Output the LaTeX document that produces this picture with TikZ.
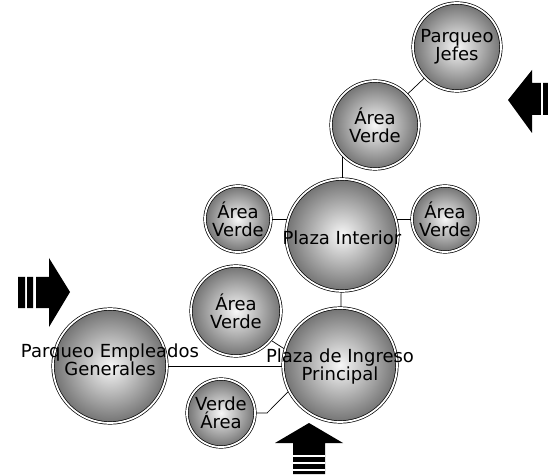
\documentclass[tikz,border=0pt]{standalone}
\usepackage{fontspec}
\setmainfont{DejaVu Sans}
\usepackage{tikz}
\usetikzlibrary{backgrounds}
\newcommand\rotfont{\fontsize{18}{18}\selectfont}
\tikzset{
zona/.style={circle,draw=black,line width=0.7pt,double=white,double distance=1.8pt,inner sep=0pt,
  minimum size=#1,shading=radial,inner color=gray!6,outer color=black!55},
rotulo/.style={align=center,font=\rotfont,inner sep=0pt},
enlace/.style={draw=black,line width=0.7pt}
}
\begin{document}
\begin{tikzpicture}[x=1pt,y=1pt]
\useasboundingbox(0,0)rectangle(548,474);
\node[zona=88,label={[rotulo]center:Parqueo\\Jefes}](jefes)at(457,427){};
\node[zona=88,label={[rotulo]center:Área\\Verde}](avTop)at(375,349){};
\node[zona=112,label={[rotulo,yshift=-3pt]center:Plaza Interior}](interior)at(342,239){};
\node[zona=66,label={[rotulo]center:Área\\Verde}](avL)at(238,255){};
\node[zona=66,label={[rotulo]center:Área\\Verde}](avR)at(445,255){};
\node[zona=90,label={[rotulo]center:Área\\Verde}](avM)at(236,163){};
\node[zona=114,label={[rotulo,yshift=-2pt]center:Plaza de Ingreso\\Principal}](ingreso)at(340,109){};
\node[zona=114,label={[rotulo,yshift=6pt]center:Parqueo Empleados\\Generales}](empleados)at(110,108){};
\node[zona=68,label={[rotulo]center:Verde\\Área}](avS)at(221,61){};
\coordinate(codo)at(267,61);
\begin{scope}[on background layer]
\path[enlace](jefes)--(avTop);
\path[enlace](interior.center)--(interior.center|-avTop.center);
\path[enlace](avL.center)--(avL.center-|interior.center);
\path[enlace](avR.center)--(avR.center-|interior.center);
\path[enlace](interior)--(ingreso);
\path[enlace](avM.-40)--(ingreso.164);
\path[enlace](empleados.center)--(empleados.center-|ingreso.center);
\path[enlace](avS.center)--(codo)--(ingreso.207);
\end{scope}
% flechas de acceso
\fill(18,166)rectangle(25,197)(27,166)rectangle(33,197);
\fill(36,166)--(49,166)--(49,147)--(70,182)--(49,216)--(49,197)--(36,197)--cycle;
\fill(293,0)--(293,31)--(275,31)--(309,51)--(343,31)--(325,31)--(325,0)--cycle;
\draw[white,line width=1.2pt](293,18)--(325,18)(293,11)--(325,11)(293,4)--(325,4);
\fill(548,359)--(532,359)--(532,341)--(508,374)--(532,404)--(532,391)--(548,391)--cycle;
\draw[white,line width=1.4pt](542,358)--(542,392);
\end{tikzpicture}
\end{document}
